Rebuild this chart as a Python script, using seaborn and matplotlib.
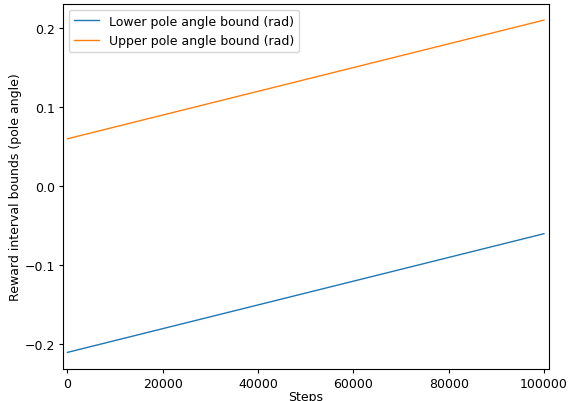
import numpy as np
import pandas as pd
import matplotlib
matplotlib.use("Agg")
import matplotlib.pyplot as plt
import seaborn as sns

# Curriculum bounds (linear schedules)
steps = [0, 100000]
lower_bound = [-0.21, -0.06]
upper_bound = [0.06, 0.21]
series_names = ["Lower pole angle bound (rad)", "Upper pole angle bound (rad)"]

df = pd.DataFrame({
    "Steps": steps * 2,
    "bound": lower_bound + upper_bound,
    "series": [series_names[0]] * 2 + [series_names[1]] * 2,
})

plt.rcParams["font.family"] = ["DejaVu Sans"]
plt.rcParams["font.size"] = 9
plt.rcParams["xtick.major.size"] = 2.8
plt.rcParams["ytick.major.size"] = 2.8
plt.rcParams["xtick.major.pad"] = 2.8
plt.rcParams["ytick.major.pad"] = 2.8

fig = plt.figure(figsize=(5.68, 4.02), dpi=100)
ax = fig.add_axes([62.7 / 568, 1 - 370 / 402, (548.7 - 62.7) / 568, (370 - 4.5) / 402])

sns.lineplot(data=df, x="Steps", y="bound", hue="series",
             palette=["#1f77b4", "#ff7f0e"], linewidth=1.0, ax=ax)

ax.margins(x=0.01, y=0.05)
ax.set_xticks([0, 20000, 40000, 60000, 80000, 100000])
ax.set_yticks([-0.2, -0.1, 0.0, 0.1, 0.2])
ax.set_xlabel("Steps", labelpad=0.5)
ax.set_ylabel("Reward interval bounds (pole angle)", labelpad=2)

ax.legend(loc="upper left", title=None)

fig.savefig("out.png", dpi=100)
